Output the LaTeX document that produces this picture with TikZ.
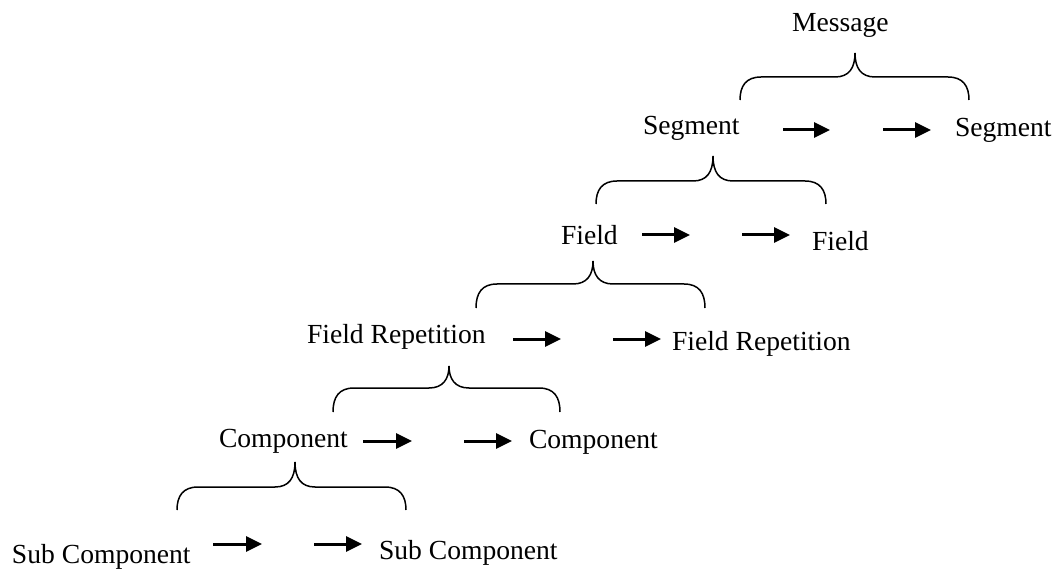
\documentclass[tikz,border=0pt]{standalone}
\usepackage{fontspec}
\setmainfont{Liberation Serif}
\usetikzlibrary{arrows.meta}
\newcommand\drawbrace[6]{% x0, x1, xtip, ytip, yh, yend
  \draw[bracestyle] (#1,#6) .. controls (#1,#5+9) and (#1+6,#5) .. (#1+21,#5)
    -- (#3-20,#5) .. controls (#3-6,#5) and (#3,#5-9) .. (#3,#4)
    .. controls (#3,#5-9) and (#3+6,#5) .. (#3+20,#5)
    -- (#2-21,#5) .. controls (#2-6,#5) and (#2,#5+9) .. (#2,#6);}
\begin{document}
\begin{tikzpicture}[x=1pt,y=-1pt,
  lbl/.style={anchor=base west,inner sep=0pt,outer sep=0pt,font=\fontsize{27.6}{33}\selectfont},
  arr/.style={line width=3pt,-{Triangle[length=16pt,width=15pt]}},
  bracestyle/.style={line width=1.5pt}]
\useasboundingbox (0,0) rectangle (1060,569);
% texts
\node[lbl] (msg) at (792,32) {Message};
\node[lbl] (segL) at (643,135) {Segment};
\node[lbl] (segR) at (955,137) {Segment};
\node[lbl] (fldL) at (561,245) {Field};
\node[lbl] (fldR) at (812,251) {Field};
\node[lbl] (repL) at (307,343) {Field Repetition};
\node[lbl] (repR) at (672,350) {Field Repetition};
\node[lbl] (cmpL) at (219,447) {Component};
\node[lbl] (cmpR) at (529,448) {Component};
\node[lbl] (subL) at (12,563) {Sub Component};
\node[lbl] (subR) at (379,559) {Sub Component};
% arrow endpoints
\coordinate (a1s) at (783,130); \coordinate (a1e) at (830,130);
\coordinate (b1s) at (883,130); \coordinate (b1e) at (931,130);
\coordinate (a2s) at (642,235); \coordinate (a2e) at (690,235);
\coordinate (b2s) at (742,235); \coordinate (b2e) at (790,235);
\coordinate (a3s) at (513,339); \coordinate (a3e) at (561,339);
\coordinate (b3s) at (613,339); \coordinate (b3e) at (661,339);
\coordinate (a4s) at (363,441); \coordinate (a4e) at (412,441);
\coordinate (b4s) at (464,441); \coordinate (b4e) at (512,441);
\coordinate (a5s) at (213,544); \coordinate (a5e) at (262,544);
\coordinate (b5s) at (314,544); \coordinate (b5e) at (362,544);
\foreach \r in {1,...,5}{
  \draw[arr] (a\r s) -- (a\r e);
  \draw[arr] (b\r s) -- (b\r e);
}
% braces
\drawbrace{740}{969}{855}{53}{77}{100}
\drawbrace{596}{826}{713}{156}{181}{204}
\drawbrace{476}{705}{593}{261}{284}{308}
\drawbrace{333}{560}{449}{366}{388}{412}
\drawbrace{177}{406}{295}{462}{487}{510}
\end{tikzpicture}
\end{document}
